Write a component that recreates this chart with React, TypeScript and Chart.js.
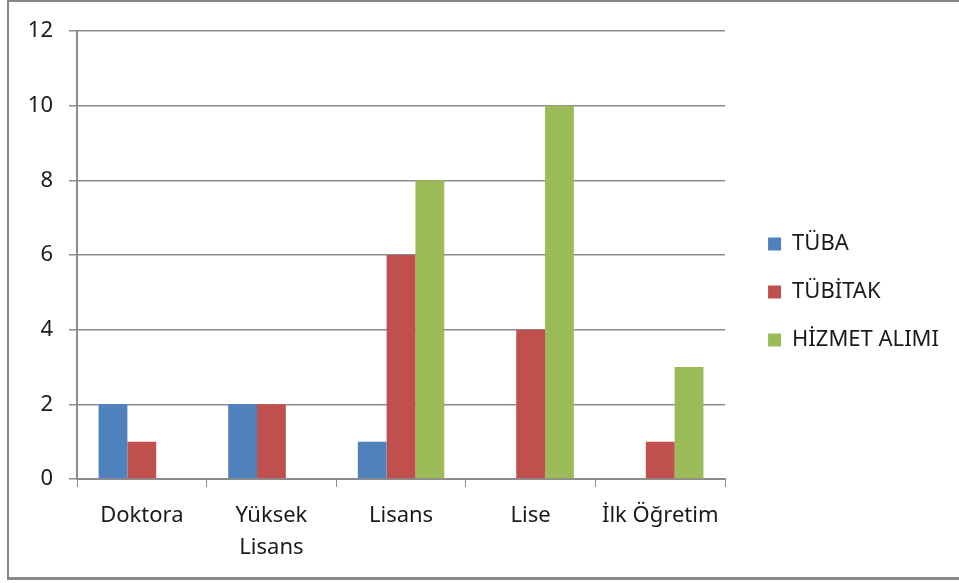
import React, { useEffect, useRef } from "react";
import { Chart, registerables } from "chart.js";

Chart.register(...registerables);

const categories: (string | string[])[] = ["Doktora", ["Yüksek", "Lisans"], "Lisans", "Lise", "İlk Öğretim"];
const seriesNames = ["TÜBA", "TÜBİTAK", "HİZMET ALIMI"];
const tubaValues = [2, 2, 1, 0, 0];
const tubitakValues = [1, 2, 6, 4, 1];
const hizmetValues = [0, 0, 8, 10, 3];
const seriesColors = ["#4F81BD", "#C0504D", "#9BBB59"];
const yTicks = [0, 2, 4, 6, 8, 10, 12];

const FONT = "'Noto Sans', sans-serif";
const TEXT = "#1a1a1a";
const GRID = "#8c8c8c";

export default function App() {
  const ref = useRef<HTMLCanvasElement | null>(null);

  useEffect(() => {
    if (!ref.current) return;
    const values = [tubaValues, tubitakValues, hizmetValues];
    const legendShift = {
      id: "legendShift",
      afterLayout(chart: any) {
        const lg = chart.legend;
        if (lg) {
          lg.left += 17;
          lg.right += 17;
          lg.top -= 15;
          lg.bottom -= 15;
        }
      },
    };
    const chart = new Chart(ref.current, {
      type: "bar",
      data: {
        labels: categories,
        datasets: seriesNames.map((name, i) => ({
          label: name,
          data: values[i],
          backgroundColor: seriesColors[i],
          borderWidth: 0,
          categoryPercentage: 0.6667,
          barPercentage: 1,
        })),
      },
      options: {
        animation: false,
        responsive: false,
        maintainAspectRatio: false,
        layout: { padding: { top: 31, left: 0, right: 27, bottom: 0 } },
        plugins: {
          tooltip: { enabled: false },
          legend: {
            position: "right",
            align: "center",
            labels: {
              font: { family: FONT, size: 22 },
              color: TEXT,
              boxWidth: 13,
              boxHeight: 13,
              padding: 26,
            },
          },
        },
        scales: {
          x: {
            grid: {
              display: true,
              drawOnChartArea: false,
              drawTicks: true,
              tickLength: 8,
              color: GRID,
              offset: true,
            },
            border: { display: true, color: GRID, width: 2 },
            ticks: {
              font: { family: FONT, size: 22, lineHeight: 1.45 },
              color: TEXT,
              maxRotation: 0,
              minRotation: 0,
              autoSkip: false,
              padding: 13,
            },
            afterFit(axis: any) {
              axis.height = 583 - 479;
            },
          },
          y: {
            min: 0,
            max: 12,
            afterBuildTicks(axis: any) {
              axis.ticks = yTicks.map((v) => ({ value: v }));
            },
            grid: {
              color: GRID,
              lineWidth: 1.5,
              tickLength: 8,
              drawTicks: true,
            },
            border: { display: true, color: GRID, width: 2 },
            ticks: {
              font: { family: FONT, size: 22 },
              color: TEXT,
              padding: 16,
            },
            afterFit(axis: any) {
              axis.width = 77;
            },
          },
        },
      },
      plugins: [legendShift],
    });
    return () => chart.destroy();
  }, []);

  return (
    <div style={{ position: "absolute", left: 0, top: 0, width: 959, height: 583, background: "#fff", overflow: "hidden" }}>
      <div
        style={{
          position: "absolute",
          left: 7,
          top: 0,
          width: 959 - 7,
          height: 580,
          boxSizing: "border-box",
          borderTop: "2px solid #878787",
          borderLeft: "2px solid #878787",
          borderBottom: "3px solid #878787",
        }}
      />
      <canvas ref={ref} width={959} height={583} style={{ position: "absolute", left: 0, top: 0, width: 959, height: 583 }} />
    </div>
  );
}
